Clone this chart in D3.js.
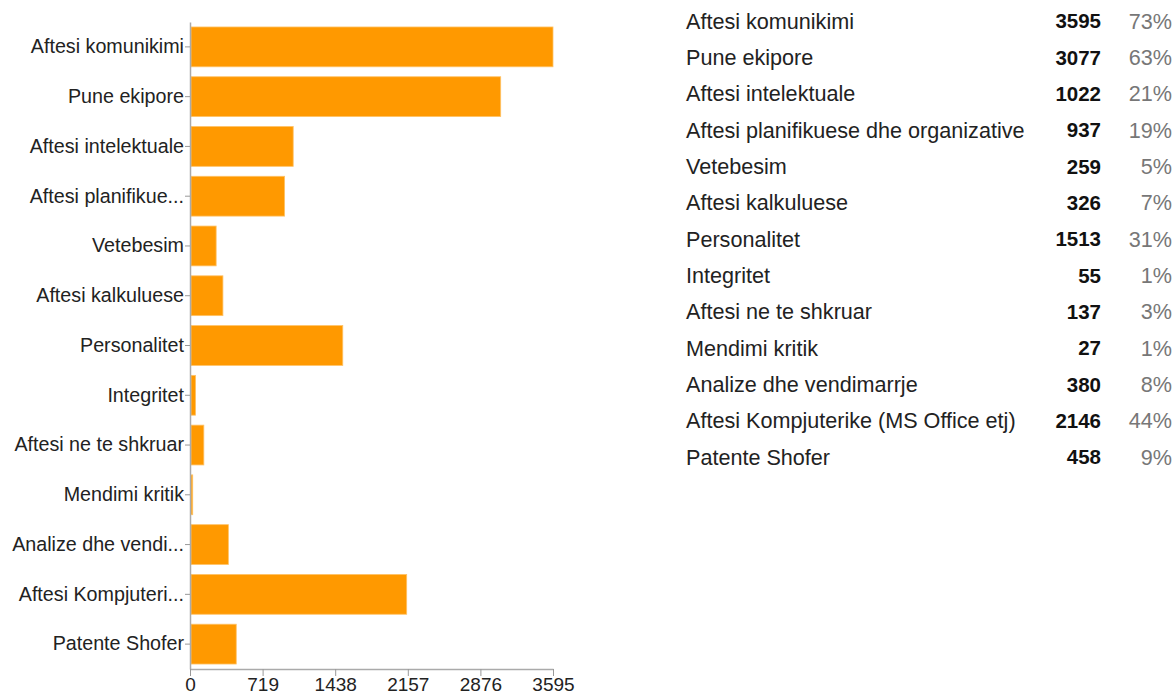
<!DOCTYPE html>
<html>
<head>
<meta charset="utf-8">
<script src="https://cdn.jsdelivr.net/npm/d3@7"></script>
<style>
  body { margin: 0; background: #fff; }
  text { font-family: "Liberation Sans", Arial, sans-serif; }
</style>
</head>
<body>
<div id="chart"></div>
<script>
const categories = [
    "Aftesi komunikimi", "Pune ekipore", "Aftesi intelektuale",
    "Aftesi planifikuese dhe organizative", "Vetebesim", "Aftesi kalkuluese",
    "Personalitet", "Integritet", "Aftesi ne te shkruar", "Mendimi kritik",
    "Analize dhe vendimarrje", "Aftesi Kompjuterike (MS Office etj)", "Patente Shofer"
];
const shortLabels = [
    "Aftesi komunikimi", "Pune ekipore", "Aftesi intelektuale",
    "Aftesi planifikue...", "Vetebesim", "Aftesi kalkuluese",
    "Personalitet", "Integritet", "Aftesi ne te shkruar", "Mendimi kritik",
    "Analize dhe vendi...", "Aftesi Kompjuteri...", "Patente Shofer"
];
const counts = [3595, 3077, 1022, 937, 259, 326, 1513, 55, 137, 27, 380, 2146, 458];
const percents = ["73%", "63%", "21%", "19%", "5%", "7%", "31%", "1%", "3%", "1%", "8%", "44%", "9%"];
const xTicks = [0, 719, 1438, 2157, 2876, 3595];

const width = 1175, height = 694;
const svg = d3.select("#chart").append("svg")
    .attr("width", width)
    .attr("height", height);

// bar chart
const x = d3.scaleLinear().domain([0, 3595]).range([190, 553]);
const y = d3.scaleBand()
    .domain(d3.range(categories.length))
    .range([22, 669])
    .paddingInner(0.2)
    .paddingOuter(0.1);

svg.append("g")
    .selectAll("rect")
    .data(counts)
    .enter()
    .append("rect")
    .attr("x", x(0) + 1)
    .attr("y", (d, i) => y(i))
    .attr("width", d => Math.max(x(d) - x(0) - 1, 1))
    .attr("height", y.bandwidth())
    .attr("fill", "#ff9900")
    .attr("stroke", "#ffc266")
    .attr("stroke-width", 0.8);

// left axis
const yAxis = svg.append("g")
    .attr("transform", `translate(${x(0)},0)`)
    .call(d3.axisLeft(y).tickSize(5).tickPadding(1).tickSizeOuter(0).tickFormat(i => shortLabels[i]));
yAxis.select(".domain").attr("stroke", "#aaa").attr("stroke-width", 1.5);
yAxis.selectAll(".tick line").attr("stroke", "#999");
yAxis.selectAll(".tick text")
    .attr("fill", "#222")
    .attr("font-size", "19.7px")
    .attr("font-family", "'Liberation Sans', Arial, sans-serif");

// bottom axis
const xAxis = svg.append("g")
    .attr("transform", `translate(0,669)`)
    .call(d3.axisBottom(x).tickValues(xTicks).tickFormat(d3.format("d"))
        .tickSize(7).tickPadding(2).tickSizeOuter(0));
xAxis.select(".domain").attr("stroke", "#aaa").attr("stroke-width", 1.5);
xAxis.selectAll(".tick line").attr("stroke", "#999");
xAxis.selectAll(".tick text")
    .attr("fill", "#222")
    .attr("font-size", "19px")
    .attr("font-family", "'Liberation Sans', Arial, sans-serif");

// summary table
const rowY = d3.scalePoint()
    .domain(d3.range(categories.length))
    .range([21, 457]);

const rows = svg.append("g")
    .selectAll("g.row")
    .data(categories)
    .enter()
    .append("g")
    .attr("class", "row")
    .attr("transform", (d, i) => `translate(0,${rowY(i)})`);

rows.append("text")
    .attr("x", 686)
    .attr("dy", "0.35em")
    .attr("fill", "#222")
    .attr("font-size", "21.6px")
    .text(d => d);

rows.append("text")
    .attr("x", 1101)
    .attr("dy", "0.35em")
    .attr("text-anchor", "end")
    .attr("fill", "#111")
    .attr("font-weight", "bold")
    .attr("font-size", "20.5px")
    .text((d, i) => counts[i]);

rows.append("text")
    .attr("x", 1172)
    .attr("dy", "0.35em")
    .attr("text-anchor", "end")
    .attr("fill", "#777")
    .attr("font-size", "21.6px")
    .text((d, i) => percents[i]);
</script>
</body>
</html>
